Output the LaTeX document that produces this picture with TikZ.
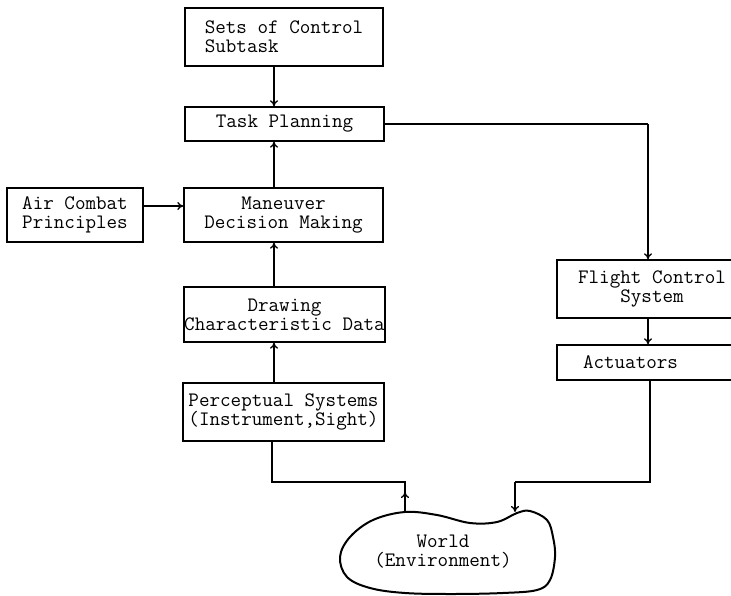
\documentclass[tikz,border=0pt]{standalone}
\usepackage{fontspec}
\usetikzlibrary{arrows.meta,calc}
\begin{document}
\begin{tikzpicture}[x=1pt,y=-1pt,
  every node/.style={font=\ttfamily\fontsize{20.5}{19}\selectfont},
  box/.style={draw,line width=1.4pt,rectangle,inner sep=0pt,align=center},
  arr/.style={line width=1.3pt,-{To[length=6pt,width=8pt]}},
  ln/.style={line width=1.3pt}]
\clip (0,0) rectangle (731,596);
\fill[white] (0,0) rectangle (731,596);
% boxes
\node[box,minimum width=198pt,minimum height=58pt,align=left] (sets) at (284,37) {Sets of Control\\Subtask};
\node[box,minimum width=199pt,minimum height=34pt] (task) at (284.5,124) {Task Planning};
\node[box,minimum width=199pt,minimum height=54pt] (man) at (283.5,215) {Maneuver\\Decision Making};
\node[box,minimum width=136pt,minimum height=54pt] (air) at (75,215) {Air Combat\\Principles};
\node[box,minimum width=201pt,minimum height=55pt] (draw) at (284.5,314.5) {Drawing\\Characteristic Data};
\node[box,minimum width=201pt,minimum height=58pt] (perc) at (283.5,412) {Perceptual Systems\\(Instrument,Sight)};
\node[box,minimum width=190pt,minimum height=58pt] (fcs) at (652,289) {Flight Control\\System};
\node[box,minimum height=35pt,text width=138pt,inner xsep=26pt,align=left] (act) at (652,362.5) {Actuators};
% world blob
\draw[line width=2pt] plot[smooth cycle,tension=0.6] coordinates {
 (405,512) (437,515) (470,523) (497,522) (517,513) (530,511) (547,520)
 (553,537) (555,557) (550,580) (537,590) (503,593) (453,594) (405,593)
 (370,588) (347,577) (340,557) (350,537) (373,520)};
\node[align=center] (world) at (443,552) {World\\(Environment)};
% helper coordinates
\coordinate (spine) at (274,0);
\coordinate (rspine) at (648,0);
\coordinate (airy) at (0,206);
\coordinate (lowy) at (0,482);
\coordinate (wl) at (405,512);
\coordinate (wlt) at (405,492);
\coordinate (wr) at (515,512);
% connectors
\draw[arr] (sets.south -| spine) -- (task.north -| spine);
\draw[arr] (man.north -| spine) -- (task.south -| spine);
\draw[arr] (draw.north -| spine) -- (man.south -| spine);
\draw[arr] (perc.north -| spine) -- (draw.south -| spine);
\draw[arr] (air.east |- airy) -- (man.west |- airy);
\draw[ln] (task.east) -| (rspine |- task.east) coordinate (tr);
\draw[arr] (tr) -- (fcs.north -| rspine);
\draw[arr] (fcs.south -| rspine) -- (act.north -| rspine);
\draw[ln] (perc.south -| 272,0) -- (272,482) -- (wl |- lowy) -- (wl);
\draw[arr] (wl) -- (wlt);
\draw[ln] (act.south -| 650,0) -- (650,482) -- (wr |- lowy);
\draw[arr] (wr |- lowy) -- (wr);
\end{tikzpicture}
\end{document}
